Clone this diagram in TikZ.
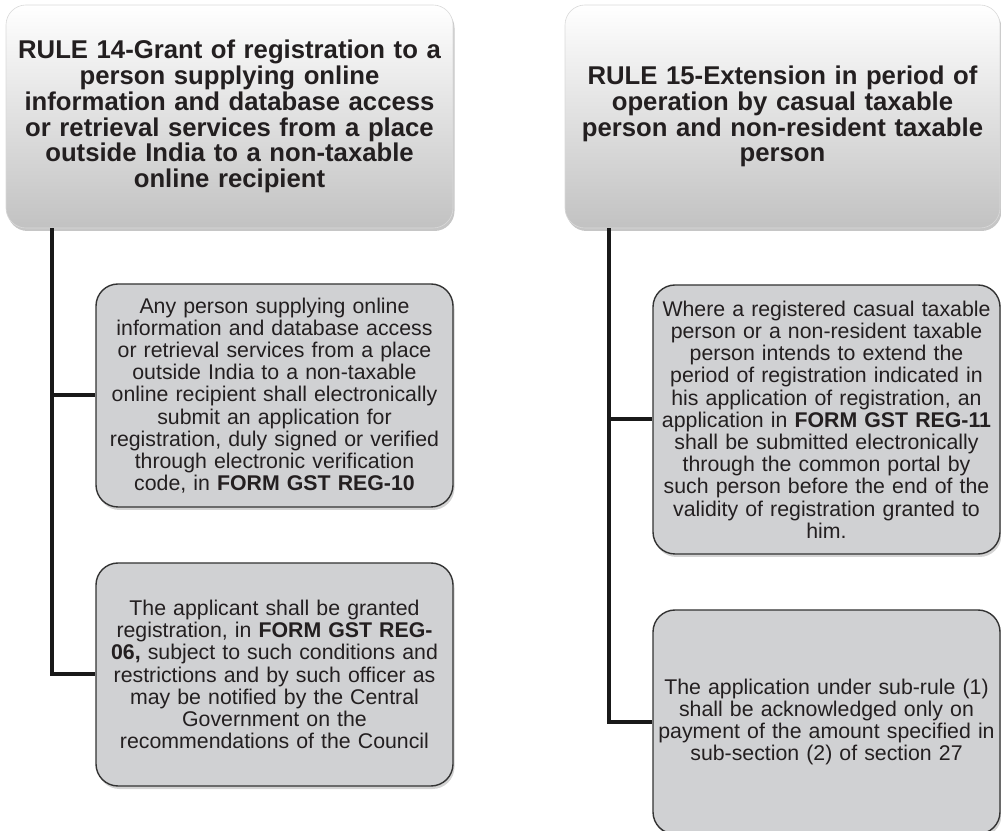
\documentclass[tikz,border=0pt]{standalone}
\usepackage{fontspec}
\setmainfont{Liberation Sans}
\usetikzlibrary{shadows,positioning}
\definecolor{boxgray}{RGB}{208,209,211}
\definecolor{inkgray}{RGB}{35,31,32}

\begin{document}
\begin{tikzpicture}[x=1pt,y=1pt,
    rulebox/.style={rounded corners=20pt,draw=gray!30,line width=0.6pt,top color=white,bottom color=black!24,
      drop shadow={shadow xshift=1.5pt,shadow yshift=-3pt,opacity=0.45},
      inner sep=0pt,align=center,text width=425pt,text=inkgray,font=\fontsize{25.7}{25.8}\selectfont\bfseries},
    factbox/.style={rounded corners=22pt,draw=black!80,line width=1.4pt,fill=boxgray,
      drop shadow={shadow xshift=1.5pt,shadow yshift=-3pt,opacity=0.35},
      inner sep=0pt,align=center,text width=340pt,text=inkgray,font=\fontsize{21.3}{22.2}\selectfont},
    link/.style={line width=4pt,draw=black!90}]
      \useasboundingbox (0,0) rectangle (1001,830);
      % Rule 14 column
      \node[rulebox,minimum width=447pt,minimum height=223pt] (rule14) at (229.5,713.5)
        {RULE 14-Grant of registration to a\\ person supplying online\\ information and database access\\ or retrieval services from a place\\ outside India to a non-taxable\\ online recipient};
      \node[factbox,minimum width=357pt,minimum height=223pt] (r14a) at (274.5,434.5)
        {Any person supplying online\\ information and database access\\ or retrieval services from a place\\ outside India to a non-taxable\\ online recipient shall electronically\\ submit an application for\\ registration, duly signed or verified\\ through electronic verification\\ code, in \textbf{FORM GST REG-10}};
      \node[factbox,minimum width=357pt,minimum height=223pt] (r14b) at (274.5,155.5)
        {The applicant shall be granted\\ registration, in \textbf{FORM GST REG-}\\ \textbf{06,} subject to such conditions and\\ restrictions and by such officer as\\ may be notified by the Central\\ Government on the\\ recommendations of the Council};
      % Rule 15 column
      \node[rulebox,minimum width=435pt,minimum height=223pt] (rule15) at (782.5,713.5)
        {RULE 15-Extension in period of\\ operation by casual taxable\\ person and non-resident taxable\\ person};
      \node[factbox,minimum width=347pt,minimum height=269pt] (r15a) at (826.5,410.5)
        {Where a registered casual taxable\\ person or a non-resident taxable\\ person intends to extend the\\ period of registration indicated in\\ his application of registration, an\\ application in \textbf{FORM GST REG-11}\\ shall be submitted electronically\\ through the common portal by\\ such person before the end of the\\ validity of registration granted to\\ him.};
      \node[factbox,minimum width=347pt,minimum height=224pt] (r15b) at (826.5,108)
        {The application under sub-rule (1)\\ shall be acknowledged only on\\ payment of the amount specified in\\ sub-section (2) of section 27};
      % connectors
      \coordinate (trunk14) at ([xshift=46pt]rule14.south west);
      \coordinate (trunk15) at ([xshift=44pt]rule15.south west);
      \draw[link] (trunk14) |- (r14a.west);
      \draw[link] (trunk14) |- (r14b.west);
      \draw[link] (trunk15) |- (r15a.west);
      \draw[link] (trunk15) |- (r15b.west);
\end{tikzpicture}
\end{document}
